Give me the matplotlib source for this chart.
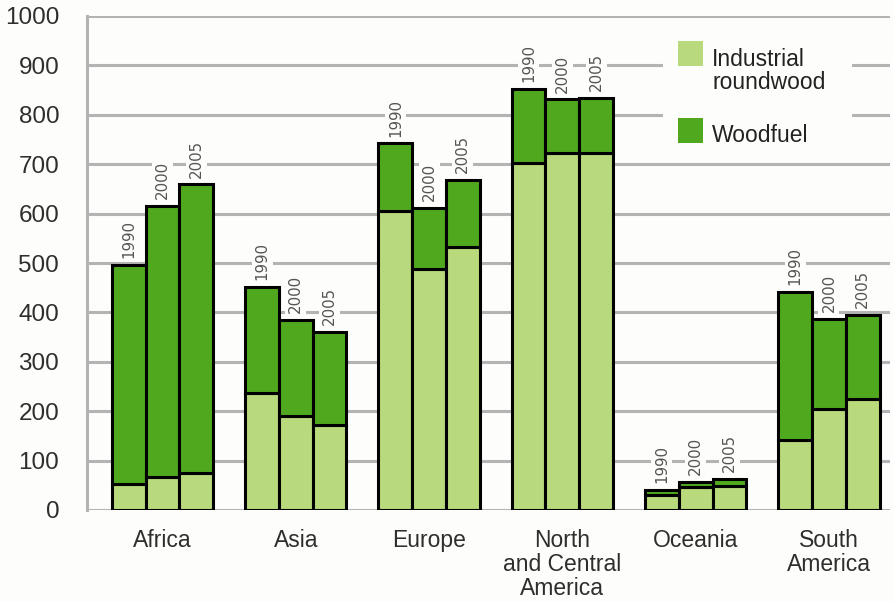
"""Industrial roundwood and woodfuel removals by region, 1990-2005."""

import matplotlib.pyplot as plt
from matplotlib.patches import Rectangle

regions = ["Africa", "Asia", "Europe", "North\nand Central\nAmerica",
           "Oceania", "South\nAmerica"]
years = ["1990", "2000", "2005"]

# million m3, one row per region, one column per year
industrial = [
    [53, 66, 74],
    [236, 190, 172],
    [605, 487, 533],
    [702, 722, 722],
    [30, 46, 49],
    [142, 204, 224],
]
woodfuel = [
    [443, 549, 585],
    [216, 195, 189],
    [137, 125, 135],
    [150, 109, 113],
    [10, 11, 13],
    [300, 182, 171],
]

LIGHT = "#b8d97c"
DARK = "#4fa81e"
GRID = "#b4b4b4"
BG = "#fdfdfb"
TXT = "#2e2e2e"
FONT = "Liberation Sans"

fig = plt.figure(figsize=(8.93, 6.02), dpi=100, facecolor=BG)
ax = fig.add_axes([87 / 893, 92 / 602, 803 / 893, 494 / 602])
ax.set_facecolor(BG)

bar_w = 0.253
offsets = [-bar_w, 0.0, bar_w]

for i, region in enumerate(regions):
    for j, yr in enumerate(years):
        x = i + offsets[j]
        ind = industrial[i][j]
        wf = woodfuel[i][j]
        ax.bar(x, ind, width=bar_w, color=LIGHT, edgecolor="black",
               linewidth=2.2, zorder=3)
        ax.bar(x, wf, bottom=ind, width=bar_w, color=DARK,
               edgecolor="black", linewidth=2.2, zorder=3)
        ax.text(x, ind + wf + 14, yr, rotation=90, ha="center", va="bottom",
                fontsize=10.8, color="#555555", zorder=4,
                bbox={"boxstyle": "square,pad=0.2", "facecolor": BG,
                      "edgecolor": "none"})

ax.set_xlim(-0.566, 5.458)
ax.set_ylim(0, 1000)
ax.set_yticks(range(0, 1001, 100))
ax.set_xticks(range(len(regions)))
ax.set_xticklabels(regions, fontsize=16.5, color=TXT, linespacing=1.05,
                   family=FONT)
for lbl in ax.get_yticklabels():
    lbl.set_fontsize(17.5)
    lbl.set_color(TXT)
    lbl.set_family(FONT)
ax.tick_params(axis="both", length=0)
ax.tick_params(axis="y", pad=20)
ax.tick_params(axis="x", pad=14)

ax.yaxis.grid(True, color=GRID, linewidth=2.2, zorder=0)
ax.set_axisbelow(True)
for side in ["top", "right", "bottom"]:
    ax.spines[side].set_visible(False)
ax.spines["left"].set_color(GRID)
ax.spines["left"].set_linewidth(2.2)


def px(x, y):
    """Pixel position to axes fraction."""
    return (x - 87) / 803, (510 - y) / 494


# legend drawn by hand: plain box over the grid, swatches next to the labels
x0, y0 = px(663, 150)
x1, y1 = px(852, 28)
ax.add_patch(Rectangle((x0, y0), x1 - x0, y1 - y0, transform=ax.transAxes,
                       facecolor=BG, edgecolor="none", zorder=2))
sw = 25 / 803
sh = 25 / 494
for (sx, sy), color in [(px(678, 66), LIGHT), (px(678, 143), DARK)]:
    ax.add_patch(Rectangle((sx, sy), sw, sh, transform=ax.transAxes,
                           facecolor=color, edgecolor="none", zorder=4))
tx, ty = px(712, 71)
ax.text(tx, ty, "Industrial\nroundwood", transform=ax.transAxes,
        ha="left", va="center", fontsize=16.5, color="#222222",
        family=FONT, linespacing=0.95, zorder=4)
tx, ty = px(712, 135)
ax.text(tx, ty, "Woodfuel", transform=ax.transAxes, ha="left",
        va="center", fontsize=16.5, color="#222222", family=FONT, zorder=4)

fig.savefig("out.png", dpi=100, facecolor=BG)
